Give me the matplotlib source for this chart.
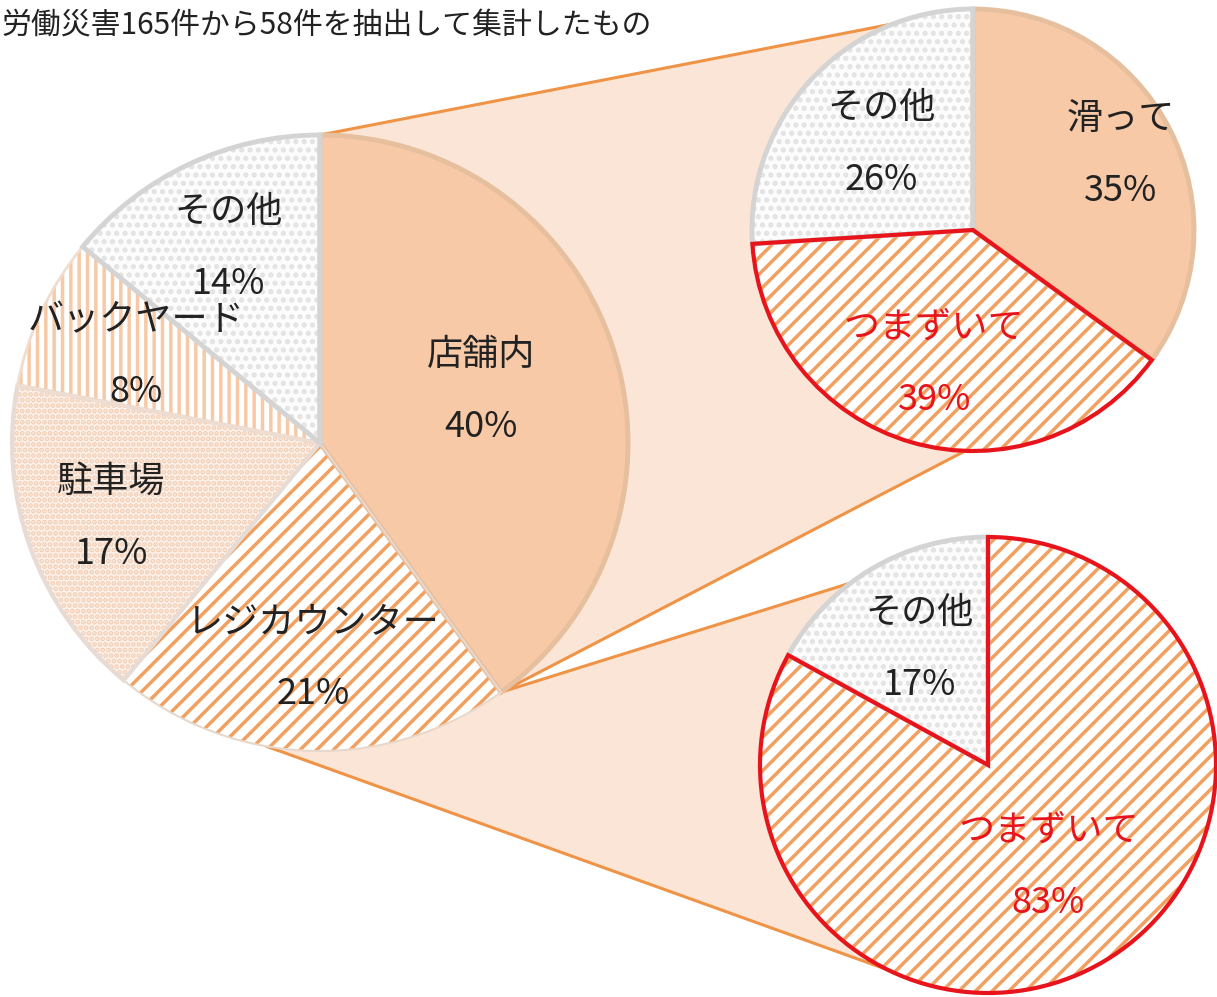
import numpy as np
import matplotlib
matplotlib.use("Agg")
import matplotlib.pyplot as plt
from matplotlib.patches import Polygon

plt.rcParams['font.family'] = ['Noto Sans CJK JP', 'DejaVu Sans']
plt.rcParams['hatch.linewidth'] = 2.5

W, H = 1217, 997

note = "労働災害165件から58件を抽出して集計したもの"

# 発生場所の内訳
place_labels = ["店舗内", "レジカウンター", "駐車場", "バックヤード", "その他"]
place_pct = [40, 21, 17, 8, 14]

# 店舗内の事故の内訳
store_labels = ["滑って", "つまずいて", "その他"]
store_pct = [35, 39, 26]

# レジカウンターの事故の内訳
register_labels = ["つまずいて", "その他"]
register_pct = [83, 17]

PEACH = '#f8c9a6'
TAN = '#e6bf9e'
STRIPE = '#f2a060'
RED = '#e8141c'
GRAY = '#d4d4d4'
LINE = '#ef9447'
SHADE = '#fbe5d6'

SOLID = dict(face=PEACH, hatch=None, hcolor=None, edge=TAN, lw=3.5, z=0)
DIAG = dict(face='white', hatch='//', hcolor=STRIPE, edge='#e8d8cc', lw=1.5, z=0)
DIAG_RED = dict(face='white', hatch='//', hcolor=STRIPE, edge=RED, lw=3.0, z=1)
FINE = dict(face='#fdf1e9', hatch='...', hcolor='#f1cfb6', edge='#e6dcd5', lw=3.0, z=0)
VERT = dict(face='white', hatch='||', hcolor='#f7c9a6', edge='#f1ddd0', lw=2.0, z=0)
DOTS = dict(face='#fcfcfc', hatch='..', hcolor='#e2e2e2', edge=GRAY, lw=3.5, z=0)


def draw_pie(ax, pct, center, radius, styles):
    wedges, _ = ax.pie(pct, center=center, radius=radius, startangle=90,
                       counterclock=False, frame=True,
                       wedgeprops=dict(linewidth=0))
    for w, s in zip(wedges, styles):
        w.set_facecolor(s['face'])
        if s['hatch']:
            w.set_hatch(s['hatch'])
            w.set_edgecolor(s['hcolor'])
        w.set_linewidth(0)
        w.set_zorder(3)
    edges, _ = ax.pie(pct, center=center, radius=radius, startangle=90,
                      counterclock=False, frame=True,
                      wedgeprops=dict(fill=False))
    for w, s in zip(edges, styles):
        w.set_edgecolor(s['edge'])
        w.set_linewidth(s['lw'])
        w.set_joinstyle('miter')
        w.set_zorder(4 + s['z'])
    return wedges


def put_labels(ax, wedges, labels, pct, dists, colors, size=26):
    for w, lab, p, d, c in zip(wedges, labels, pct, dists, colors):
        mid = np.deg2rad((w.theta1 + w.theta2) / 2)
        x = w.center[0] + d * w.r * np.cos(mid)
        y = w.center[1] + d * w.r * np.sin(mid)
        ax.text(x, y + 36, lab, ha='center', va='center', fontsize=size,
                color=c, zorder=6)
        ax.text(x, y - 36, f"{p}%", ha='center', va='center', fontsize=size,
                color=c, zorder=6)


def rim(center, radius, clock_deg):
    # point on a pie rim, angle measured clockwise from 12 o'clock
    t = np.deg2rad(90 - clock_deg)
    return (center[0] + radius * np.cos(t), center[1] + radius * np.sin(t))


fig = plt.figure(figsize=(W / 100, H / 100), dpi=100)
ax = fig.add_axes([0, 0, 1, 1])

main_c, main_r = (320, H - 443), 308
store_c, store_r = (973, H - 230), 221
reg_c, reg_r = (988, H - 765), 228

split = place_pct[0] * 3.6

# 引き出し部分
p_top = rim(main_c, main_r, 0)
p_split = rim(main_c, main_r, split)
p_low = rim(main_c, main_r, 190)
s_top = rim(store_c, store_r, 339)
s_bot = rim(store_c, store_r, 182)
r_top = rim(reg_c, reg_r, 323)
r_bot = rim(reg_c, reg_r, 206)

ax.add_patch(Polygon([p_top, s_top, s_bot, p_split], closed=True,
                     facecolor=SHADE, edgecolor='none', zorder=1))
ax.add_patch(Polygon([p_split, r_top, r_bot, p_low], closed=True,
                     facecolor=SHADE, edgecolor='none', zorder=1))
for a, b in [(p_top, s_top), (p_split, s_bot), (p_split, r_top), (p_low, r_bot)]:
    ax.plot([a[0], b[0]], [a[1], b[1]], color=LINE, lw=2.2, zorder=2,
            solid_capstyle='round')

wm = draw_pie(ax, place_pct, main_c, main_r, [SOLID, DIAG, FINE, VERT, DOTS])
put_labels(ax, wm, place_labels, place_pct, [0.55, 0.70, 0.72, 0.66, 0.70],
           ['#222222'] * 5)

ws = draw_pie(ax, store_pct, store_c, store_r, [SOLID, DIAG_RED, DOTS])
put_labels(ax, ws, store_labels, store_pct, [0.75, 0.63, 0.57],
           ['#222222', RED, '#222222'])

wr = draw_pie(ax, register_pct, reg_c, reg_r, [DIAG_RED, DOTS])
put_labels(ax, wr, register_labels, register_pct, [0.52, 0.59],
           [RED, '#222222'])

ax.text(1, H - 25, note, ha='left', va='center', fontsize=21.5,
        color='#222222', zorder=6)

ax.set_xlim(0, W)
ax.set_ylim(0, H)
ax.set_aspect('equal')
ax.axis('off')

fig.savefig('out.png', dpi=100, facecolor='white')
